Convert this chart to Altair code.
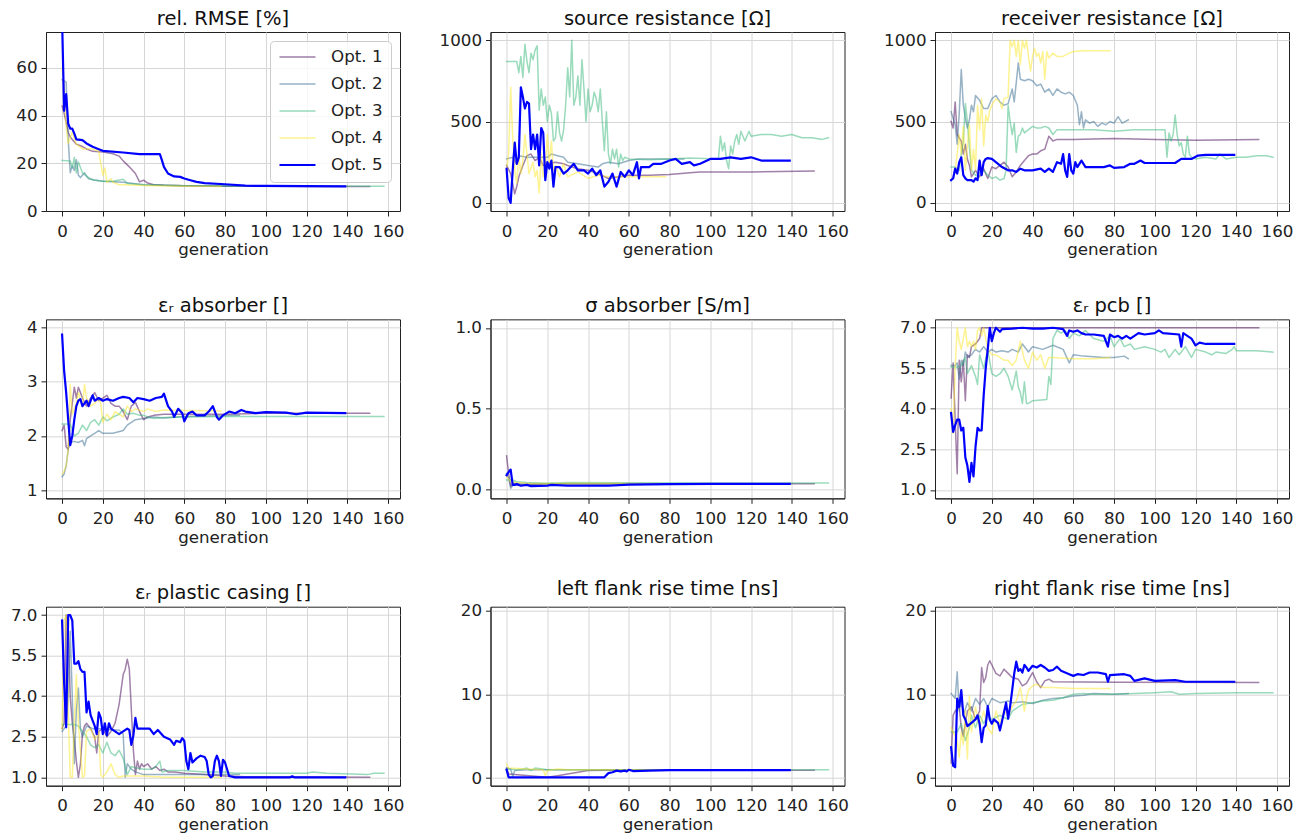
import altair as alt
import pandas as pd

SERIES = ["Opt. 1", "Opt. 2", "Opt. 3", "Opt. 4", "Opt. 5"]
COLORS = ["#440154", "#31688e", "#35b779", "#fde725", "#0000ff"]
OPACITY = [0.5, 0.5, 0.5, 0.5, 1.0]
WIDTHS = [1.5, 1.5, 1.5, 1.5, 2.2]
GEN_TICKS = [0, 20, 40, 60, 80, 100, 120, 140, 160]
GEN_DOMAIN = [-7.9, 165.9]

# ---- rel. RMSE [%]
rmse_opt1 = [(0,44),(1,41),(2,37),(3,33),(4,31),(5,30),(7,28),(10,27),(12,26),(15,25),(20,24.7),(25,24),(28,23),(30,21),(33,18.5),(36,15.7),(38,12.2),(40,12.9),(42,11.7),(45,11),(50,10.8),(60,10.6),(80,10.4),(120,10.3),(151,10.3)]
rmse_opt2 = [(0,55),(2,54),(3,30),(4,16),(5,19),(6,17),(7,21.5),(8,15),(9,14),(11,16),(13,13.5),(16,13),(20,12.5),(30,12),(40,11),(60,10.6),(87,10.4)]
rmse_opt3 = [(0,21.2),(4,21),(5,18),(6,22.5),(7,16),(8,20.5),(10,16),(12,14.5),(15,13),(20,12.5),(25,12.5),(30,13.3),(32,11.5),(40,11),(60,10.6),(100,10.5),(158,10.4)]
rmse_opt4 = [(0,60),(1,53),(2,35),(3,28.3),(5,33),(7,28),(10,26),(15,26),(18,25),(19,20),(20,15),(21,18),(22,12),(24,13.5),(25,12),(28,11),(30,11),(40,10.7),(50,10.5),(78,10.3)]
rmse_opt5 = [(0,80),(1,42),(2,49),(3,36.6),(4,34.5),(5,34.5),(6,32.4),(7,30),(10,29.7),(12,28.3),(15,26.9),(18,25.9),(20,25.2),(30,24.5),(38,23.8),(48,23.8),(49,21.3),(50,18.5),(52,15.7),(55,14.5),(58,14.3),(60,13.6),(63,12.9),(66,12.2),(70,11.7),(80,11.2),(90,10.6),(100,10.5),(139,10.3)]

# ---- source resistance [Ohm]
src_opt1 = [(0,230),(2,180),(4,55),(5,100),(6,160),(8,230),(10,290),(12,300),(14,260),(16,280),(18,230),(20,240),(24,250),(28,240),(30,230),(35,210),(40,200),(45,180),(50,150),(55,160),(60,170),(70,170),(80,175),(90,185),(95,190),(120,190),(151,195)]
src_opt2 = [(0,270),(3,280),(5,240),(6,290),(10,280),(15,280),(20,280),(22,300),(25,290),(28,280),(30,250),(35,240),(40,230),(45,220),(47,240),(50,250),(55,240),(60,260),(65,270),(80,270),(87,270)]
src_opt3 = [(0,868),(5,868),(6,800),(7,900),(8,770),(9,975),(10,870),(11,800),(12,920),(13,880),(14,940),(15,965),(16,570),(17,700),(18,600),(19,650),(20,500),(21,600),(22,550),(23,380),(24,400),(25,560),(26,430),(27,380),(28,450),(29,600),(30,830),(31,650),(32,1000),(33,600),(34,650),(35,780),(36,600),(37,880),(38,700),(39,500),(40,700),(41,560),(42,600),(43,680),(44,640),(45,560),(46,700),(47,500),(48,320),(49,560),(50,300),(51,240),(52,330),(53,270),(54,330),(55,220),(56,300),(57,260),(58,280),(60,270),(70,265),(80,270),(90,275),(104,270),(105,410),(106,320),(107,370),(108,260),(109,210),(110,350),(111,300),(112,380),(113,420),(114,360),(115,440),(117,380),(119,440),(120,410),(125,420),(130,420),(135,410),(140,420),(145,400),(150,400),(155,390),(158,400)]
src_opt4 = [(0,200),(1,300),(2,710),(3,400),(4,200),(5,120),(6,300),(7,180),(8,260),(9,420),(10,300),(11,180),(13,250),(14,160),(15,200),(16,60),(17,300),(18,160),(19,200),(20,420),(21,250),(22,380),(23,200),(24,230),(26,160),(28,240),(30,160),(35,190),(40,150),(45,170),(50,160),(60,160),(78,160)]
src_opt5 = [(0,210),(1,30),(2,0),(3,200),(4,370),(5,240),(6,280),(7,710),(8,650),(9,580),(10,620),(11,610),(12,330),(13,420),(14,330),(15,420),(16,230),(17,460),(18,430),(19,140),(20,250),(21,210),(22,260),(23,100),(24,220),(26,220),(28,180),(30,200),(33,240),(35,200),(38,200),(40,180),(42,210),(44,170),(46,200),(48,100),(50,130),(52,180),(54,100),(56,190),(58,160),(60,200),(62,170),(64,250),(65,150),(66,220),(70,220),(72,240),(76,240),(80,260),(83,270),(86,240),(90,250),(92,230),(95,240),(100,270),(105,270),(110,280),(115,270),(120,280),(125,260),(130,260),(139,260)]

# ---- receiver resistance [Ohm]
rcv_opt1 = [(0,500),(1,460),(2,620),(3,420),(4,400),(5,380),(6,300),(7,360),(8,270),(9,230),(10,160),(12,200),(14,160),(16,210),(18,150),(20,220),(22,210),(24,230),(26,250),(28,220),(30,160),(32,190),(34,230),(36,260),(38,290),(40,300),(42,300),(44,320),(46,330),(48,410),(50,380),(52,390),(60,390),(80,395),(100,390),(120,385),(151,390)]
rcv_opt2 = [(0,560),(1,520),(2,480),(3,360),(4,550),(5,820),(6,600),(7,520),(8,460),(9,510),(10,600),(11,560),(12,660),(14,630),(16,580),(18,580),(20,640),(22,660),(24,620),(26,600),(28,610),(30,700),(31,620),(32,740),(33,860),(34,760),(36,750),(38,760),(40,750),(42,720),(44,730),(46,680),(48,700),(50,660),(52,700),(54,680),(56,670),(58,680),(60,660),(62,600),(63,480),(64,560),(65,460),(66,510),(68,490),(70,500),(72,470),(74,490),(76,480),(78,500),(80,490),(82,530),(84,490),(87,510)]
rcv_opt3 = [(0,220),(2,220),(4,200),(5,300),(6,380),(7,610),(8,500),(9,340),(10,200),(12,170),(14,180),(16,200),(18,170),(20,150),(22,160),(24,140),(26,150),(27,200),(28,600),(29,500),(30,420),(31,490),(32,310),(33,410),(34,420),(35,460),(36,430),(38,450),(40,470),(42,460),(44,460),(46,470),(48,460),(50,420),(52,450),(60,450),(70,450),(80,440),(90,450),(105,450),(106,280),(107,430),(108,380),(109,420),(110,540),(111,420),(112,350),(113,370),(114,300),(115,280),(116,410),(117,300),(118,280),(120,270),(125,280),(130,270),(132,300),(135,270),(140,280),(145,280),(150,290),(155,290),(158,280)]
rcv_opt4 = [(2,200),(3,300),(4,420),(5,300),(6,470),(7,200),(8,350),(9,480),(10,200),(11,330),(12,200),(13,600),(14,450),(15,640),(16,350),(17,540),(18,500),(19,570),(20,600),(22,640),(24,620),(25,580),(26,640),(28,650),(29,1000),(30,960),(31,1000),(32,900),(33,1000),(34,850),(35,1000),(36,950),(37,1000),(38,900),(39,810),(40,900),(41,950),(42,900),(43,920),(44,860),(45,930),(46,760),(47,930),(48,890),(50,920),(52,900),(55,900),(58,920),(60,930),(65,935),(78,935)]
rcv_opt5 = [(0,140),(1,150),(2,210),(3,180),(4,250),(5,280),(6,170),(7,150),(8,140),(10,140),(11,130),(12,150),(13,140),(14,260),(15,170),(16,250),(17,270),(18,275),(20,270),(22,250),(25,220),(28,200),(30,200),(32,190),(34,210),(36,200),(40,200),(44,210),(46,190),(48,210),(50,190),(52,250),(54,240),(55,300),(56,200),(57,160),(58,300),(59,200),(60,180),(61,250),(62,220),(64,260),(66,220),(70,220),(75,220),(78,230),(80,215),(85,220),(88,240),(90,240),(93,260),(95,245),(110,245),(113,270),(118,270),(121,290),(125,295),(139,295)]

# ---- eps_r absorber []
eab_opt1 = [(0,2.1),(1,2.2),(2,1.8),(3,1.75),(4,2.3),(5,2.6),(6,2.9),(7,2.7),(8,2.9),(9,2.8),(10,2.7),(12,2.55),(14,2.7),(16,2.8),(18,2.65),(20,2.7),(22,2.75),(24,2.6),(26,2.55),(28,2.55),(30,2.45),(32,2.3),(34,2.55),(36,2.62),(38,2.45),(40,2.3),(42,2.35),(45,2.38),(50,2.4),(80,2.4),(100,2.42),(151,2.42)]
eab_opt2 = [(0,1.25),(1,1.3),(2,1.45),(3,1.75),(4,1.88),(6,1.9),(8,1.88),(10,1.92),(11,1.82),(12,1.95),(14,2.0),(16,2.05),(18,2.1),(20,2.05),(25,2.05),(30,2.1),(32,2.2),(34,2.25),(36,2.3),(40,2.32),(45,2.35),(50,2.33),(60,2.36),(70,2.37),(87,2.38)]
eab_opt3 = [(0,2.22),(4,2.22),(5,2.1),(6,2.0),(8,2.05),(10,2.2),(12,2.1),(14,2.25),(16,2.3),(18,2.2),(20,2.35),(22,2.28),(25,2.35),(28,2.4),(30,2.5),(32,2.4),(35,2.42),(38,2.38),(40,2.38),(45,2.32),(50,2.34),(60,2.35),(80,2.36),(158,2.36)]
eab_opt4 = [(0,1.3),(1,1.35),(2,1.45),(3,1.75),(4,2.95),(5,2.4),(6,2.5),(7,2.6),(8,2.8),(10,2.55),(11,2.95),(12,2.7),(14,2.55),(16,2.6),(18,2.7),(19,2.6),(20,2.25),(22,2.4),(24,2.3),(26,2.45),(28,2.4),(30,2.35),(32,2.55),(34,2.45),(36,2.5),(40,2.45),(42,2.5),(46,2.45),(50,2.48),(60,2.47),(78,2.46)]
eab_opt5 = [(0,3.87),(1,3.2),(2,2.8),(3,2.3),(4,1.83),(5,2.0),(6,2.3),(7,2.55),(8,2.65),(9,2.68),(10,2.55),(12,2.65),(13,2.55),(15,2.75),(16,2.65),(18,2.7),(20,2.65),(22,2.68),(25,2.65),(28,2.7),(30,2.72),(33,2.7),(35,2.62),(37,2.7),(40,2.68),(43,2.65),(46,2.7),(49,2.72),(50,2.78),(52,2.55),(54,2.45),(55,2.35),(57,2.5),(59,2.42),(60,2.27),(62,2.42),(64,2.45),(66,2.38),(70,2.38),(72,2.45),(74,2.55),(76,2.35),(77,2.3),(79,2.38),(82,2.45),(85,2.42),(88,2.48),(90,2.45),(95,2.42),(100,2.44),(110,2.43),(115,2.4),(120,2.43),(139,2.42)]

# ---- sigma absorber [S/m]
sig_opt1 = [(0,0.21),(1,0.1),(2,0.02),(3,0.04),(5,0.03),(20,0.035),(50,0.035),(100,0.037),(151,0.037)]
sig_opt2 = [(0,0.1),(1,0.07),(2,0.01),(4,0.04),(10,0.035),(30,0.037),(60,0.036),(87,0.037)]
sig_opt3 = [(0,0.06),(3,0.06),(5,0.05),(10,0.045),(20,0.04),(30,0.045),(60,0.043),(100,0.042),(158,0.042)]
sig_opt4 = [(0,0.08),(2,0.05),(5,0.045),(10,0.04),(20,0.038),(40,0.04),(78,0.038)]
sig_opt5 = [(0,0.09),(1,0.11),(2,0.125),(3,0.03),(4,0.03),(5,0.035),(7,0.025),(10,0.03),(12,0.022),(20,0.025),(22,0.03),(30,0.025),(50,0.025),(60,0.032),(80,0.035),(100,0.037),(139,0.037)]

# ---- eps_r pcb []
pcb_opt1 = [(0,4.4),(1,5.7),(2,3.6),(3,1.6),(4,5.8),(5,5.0),(6,5.8),(7,4.3),(8,6.0),(9,5.9),(10,6.3),(12,6.4),(14,6.6),(15,7.0),(20,7.0),(151,7.0)]
pcb_opt2 = [(0,5.6),(2,5.6),(3,5.7),(4,5.1),(5,5.8),(6,5.6),(7,6.1),(8,5.9),(10,6.0),(12,6.2),(14,6.1),(16,6.3),(18,6.1),(20,6.2),(22,6.1),(25,6.15),(28,6.1),(30,6.2),(33,6.1),(35,6.4),(38,6.1),(40,6.3),(45,6.2),(50,6.35),(55,6.2),(58,5.7),(60,6.0),(65,5.95),(75,5.9),(80,5.9),(85,5.95),(87,5.85)]
pcb_opt3 = [(0,5.55),(3,5.55),(5,5.6),(7,5.9),(8,5.3),(10,5.6),(12,5.2),(13,4.9),(14,6.0),(16,5.5),(18,6.2),(20,5.3),(22,5.2),(24,5.3),(26,5.5),(28,5.2),(30,4.7),(32,5.4),(33,4.8),(34,4.6),(35,4.2),(36,5.0),(37,4.2),(38,4.2),(40,4.3),(47,4.35),(48,5.2),(49,4.9),(50,6.6),(52,6.9),(54,6.8),(56,6.9),(58,6.6),(60,6.8),(63,6.7),(66,6.9),(70,6.6),(75,6.5),(78,6.7),(80,6.3),(83,6.6),(85,6.3),(88,6.4),(90,6.2),(95,6.3),(100,6.2),(103,6.1),(105,6.2),(107,5.9),(110,6.2),(112,6.0),(115,6.3),(118,5.9),(120,6.2),(125,6.1),(128,6.0),(130,6.1),(135,6.05),(138,6.2),(139,6.3),(140,6.15),(150,6.15),(158,6.1)]
pcb_opt4 = [(0,4.0),(1,3.1),(2,5.5),(3,7.0),(4,6.5),(5,6.2),(6,6.6),(7,7.0),(8,6.3),(9,6.5),(10,6.3),(11,6.5),(12,6.2),(13,6.9),(14,7.0),(15,6.7),(16,7.0),(18,6.2),(20,6.0),(22,6.0),(24,5.9),(26,5.8),(28,5.8),(30,5.6),(32,5.8),(34,6.5),(36,5.8),(38,5.5),(40,6.1),(42,5.8),(44,6.0),(46,5.5),(48,5.9),(50,5.9),(60,5.85),(70,5.85),(78,5.9)]
pcb_opt5 = [(0,3.85),(1,3.15),(2,3.4),(3,3.6),(4,3.6),(5,3.2),(6,3.3),(7,2.2),(8,1.9),(9,1.3),(10,2.0),(11,1.5),(12,2.6),(13,3.3),(14,3.2),(15,3.2),(16,4.5),(17,5.5),(18,6.2),(19,7.0),(20,6.5),(21,6.8),(22,7.0),(24,6.85),(25,6.95),(30,6.97),(35,7.0),(40,6.97),(45,6.97),(50,7.0),(55,6.95),(57,6.7),(58,6.9),(60,6.85),(62,6.9),(64,6.8),(66,6.75),(70,6.75),(75,6.7),(77,6.3),(78,6.75),(80,6.65),(82,6.7),(84,6.6),(86,6.7),(88,6.6),(90,6.7),(92,6.8),(95,6.75),(100,6.8),(102,6.9),(104,6.8),(112,6.75),(113,6.3),(114,6.8),(116,6.7),(118,6.6),(120,6.35),(122,6.45),(125,6.4),(139,6.4)]

# ---- eps_r plastic casing []
pla_opt1 = [(0,2.8),(1,3.0),(2,7.0),(3,6.5),(4,4.0),(5,3.0),(6,2.4),(7,1.6),(8,1.0),(9,1.5),(10,2.6),(11,2.9),(12,3.0),(14,2.8),(16,2.5),(17,1.9),(18,2.7),(20,2.8),(22,2.5),(24,2.7),(26,3.0),(28,3.7),(30,4.8),(31,5.0),(32,5.37),(33,5.0),(34,3.5),(35,2.0),(36,1.1),(37,1.6),(38,1.3),(39,1.5),(40,1.4),(42,1.5),(44,1.3),(46,1.4),(48,1.25),(50,1.3),(52,1.2),(55,1.2),(60,1.15),(70,1.1),(80,1.05),(90,1.02),(151,1.0)]
pla_opt2 = [(0,2.7),(2,2.9),(3,4.0),(4,6.4),(5,4.0),(6,1.5),(7,3.5),(8,4.3),(9,2.8),(10,2.5),(12,2.9),(15,2.8),(20,2.8),(25,2.75),(28,2.75),(30,2.6),(31,1.0),(32,1.5),(34,1.3),(36,1.2),(40,1.1),(60,1.1),(87,1.1)]
pla_opt3 = [(0,2.95),(6,2.95),(8,2.9),(10,2.7),(12,2.5),(14,2.2),(16,2.1),(18,2.2),(20,1.9),(22,2.3),(24,1.9),(26,1.8),(28,2.0),(30,1.7),(32,1.1),(34,1.4),(36,1.35),(40,1.3),(44,1.3),(46,1.4),(48,1.6),(49,1.2),(52,1.25),(60,1.25),(70,1.2),(80,1.2),(85,1.15),(120,1.15),(123,1.2),(130,1.15),(150,1.1),(153,1.15),(158,1.15)]
pla_opt4 = [(0,2.8),(1,6.8),(2,7.0),(3,3.5),(4,1.0),(5,1.0),(6,3.0),(7,4.8),(8,3.0),(9,2.0),(10,1.0),(11,1.05),(12,2.7),(14,2.8),(16,2.4),(18,2.7),(19,1.1),(20,1.0),(22,1.2),(24,1.5),(26,1.1),(28,1.0),(30,1.05),(40,1.05),(50,1.0),(78,1.0)]
pla_opt5 = [(0,6.8),(1,4.5),(2,2.85),(3,7.0),(4,7.0),(5,6.8),(6,5.2),(7,5.2),(8,5.3),(9,5.0),(10,4.9),(11,4.9),(12,3.4),(13,3.8),(14,3.3),(15,3.1),(16,2.9),(17,2.6),(18,3.4),(19,3.2),(20,2.6),(21,3.0),(22,2.55),(23,3.0),(24,2.8),(26,2.7),(28,2.6),(30,2.7),(32,2.8),(33,2.75),(34,2.2),(35,2.55),(36,3.2),(37,2.8),(43,2.8),(45,2.6),(47,2.75),(50,2.5),(53,2.4),(55,2.2),(56,2.35),(58,2.3),(59,2.45),(60,2.35),(61,1.6),(62,1.3),(63,1.9),(64,1.55),(66,1.7),(68,1.8),(70,1.75),(71,1.6),(72,1.1),(73,1.0),(74,1.05),(75,1.6),(76,1.8),(77,1.6),(78,1.05),(79,1.65),(80,1.55),(81,1.3),(82,1.05),(85,1.0),(112,1.0),(113,1.04),(114,1.0),(139,1.0)]

# ---- left flank rise time [ns]
lft_opt1 = [(0,1.2),(1,0.5),(20,0.1),(25,0.3),(30,0.5),(40,0.9),(50,0.95),(151,0.95)]
lft_opt2 = [(0,1.2),(2,1.1),(3,0.2),(4,0.9),(10,1.0),(40,1.0),(87,1.0)]
lft_opt3 = [(0,1.1),(5,1.0),(8,1.1),(10,1.2),(12,0.9),(14,1.2),(20,1.0),(30,1.0),(158,1.0)]
lft_opt4 = [(0,1.7),(1,1.2),(10,1.1),(18,1.0),(19,0.3),(20,0.9),(25,1.1),(30,1.0),(78,1.0)]
lft_opt5 = [(0,1.0),(1,0.1),(48,0.1),(50,0.6),(52,0.7),(54,0.9),(56,0.8),(58,0.9),(59,0.8),(60,1.0),(62,0.85),(70,0.9),(80,0.95),(139,0.95)]

# ---- right flank rise time [ns]
rgt_opt1 = [(0,1.8),(1,7.5),(2,8.0),(4,8.5),(5,6.0),(6,5.0),(8,8.0),(10,8.5),(12,7.0),(14,8.0),(15,13.2),(16,11.4),(17,12.0),(18,13.5),(19,14.0),(20,13.5),(22,12.5),(24,12.2),(26,13.0),(28,12.5),(30,12.0),(33,11.8),(35,11.0),(37,11.3),(40,12.6),(42,11.5),(44,10.8),(46,11.6),(48,11.8),(50,11.5),(80,11.45),(151,11.4)]
rgt_opt2 = [(0,10.1),(2,9.5),(3,12.7),(4,8.0),(5,9.5),(6,7.5),(8,9.0),(10,8.0),(12,9.5),(14,8.8),(16,9.5),(18,8.5),(20,9.5),(24,9.0),(28,9.2),(30,9.0),(35,9.1),(40,8.9),(45,9.3),(50,9.5),(55,9.6),(60,9.8),(65,9.9),(70,10.1),(80,10.0),(87,10.1)]
rgt_opt3 = [(0,5.5),(3,5.5),(5,6.5),(7,4.5),(9,6.0),(10,7.5),(12,6.0),(14,7.5),(16,6.5),(18,7.5),(20,7.0),(24,7.5),(28,7.0),(30,8.0),(35,8.8),(40,9.0),(45,9.2),(50,9.3),(55,9.6),(60,10.0),(65,10.1),(70,10.0),(80,10.0),(90,10.1),(100,10.2),(108,10.3),(112,10.0),(120,10.1),(140,10.2),(158,10.2)]
rgt_opt4 = [(0,6.0),(2,5.0),(3,4.5),(4,2.5),(5,5.5),(6,4.0),(7,8.0),(8,2.3),(9,9.8),(10,5.5),(12,8.5),(14,6.0),(16,8.0),(18,6.0),(20,5.3),(22,8.0),(24,6.5),(26,8.0),(28,7.5),(30,8.5),(32,9.2),(34,10.8),(36,8.0),(37,9.5),(38,10.5),(40,11.0),(42,11.2),(45,10.8),(50,10.8),(60,10.7),(78,10.7)]
rgt_opt5 = [(0,3.7),(1,1.5),(2,1.3),(3,9.5),(4,8.5),(5,10.5),(6,7.5),(7,7.0),(8,6.2),(10,6.6),(12,7.0),(13,7.5),(14,6.5),(15,4.3),(16,6.0),(17,6.3),(18,8.6),(19,7.0),(20,6.5),(21,7.0),(23,6.6),(24,5.7),(25,6.8),(27,9.0),(28,7.1),(29,8.6),(30,10.5),(31,12.5),(32,13.9),(33,12.8),(34,13.0),(35,12.6),(36,13.5),(37,13.2),(38,12.8),(40,13.4),(42,13.2),(44,13.5),(46,13.2),(48,12.8),(50,12.9),(52,13.3),(54,12.8),(56,12.6),(58,12.4),(60,12.2),(62,12.4),(65,12.3),(68,12.6),(72,12.6),(76,12.4),(77,11.5),(78,12.3),(85,12.4),(88,12.2),(90,11.6),(95,11.9),(100,11.6),(110,11.7),(115,11.5),(139,11.5)]

PANELS = [
    ("rel. RMSE [%]", [rmse_opt1, rmse_opt2, rmse_opt3, rmse_opt4, rmse_opt5], [0, 75], [0, 20, 40, 60], "d", True),
    ("source resistance [Ω]", [src_opt1, src_opt2, src_opt3, src_opt4, src_opt5], [-50, 1050], [0, 500, 1000], "d", False),
    ("receiver resistance [Ω]", [rcv_opt1, rcv_opt2, rcv_opt3, rcv_opt4, rcv_opt5], [-50, 1050], [0, 500, 1000], "d", False),
    ("εᵣ absorber []", [eab_opt1, eab_opt2, eab_opt3, eab_opt4, eab_opt5], [0.85, 4.15], [1, 2, 3, 4], "d", False),
    ("σ absorber [S/m]", [sig_opt1, sig_opt2, sig_opt3, sig_opt4, sig_opt5], [-0.053, 1.053], [0, 0.5, 1.0], ".1f", False),
    ("εᵣ pcb []", [pcb_opt1, pcb_opt2, pcb_opt3, pcb_opt4, pcb_opt5], [0.69, 7.31], [1.0, 2.5, 4.0, 5.5, 7.0], ".1f", False),
    ("εᵣ plastic casing []", [pla_opt1, pla_opt2, pla_opt3, pla_opt4, pla_opt5], [0.69, 7.31], [1.0, 2.5, 4.0, 5.5, 7.0], ".1f", False),
    ("left flank rise time [ns]", [lft_opt1, lft_opt2, lft_opt3, lft_opt4, lft_opt5], [-0.9, 20.45], [0, 10, 20], "d", False),
    ("right flank rise time [ns]", [rgt_opt1, rgt_opt2, rgt_opt3, rgt_opt4, rgt_opt5], [-0.9, 20.45], [0, 10, 20], "d", False),
]


def make_panel(title, lists, ydom, yticks, fmt, show_legend):
    rows = []
    for name, pts in zip(SERIES, lists):
        for g, v in pts:
            rows.append({"gen": g, "value": v, "series": name})
    df = pd.DataFrame(rows)
    leg = alt.Legend(title=None, orient="top-right") if show_legend else None
    return (
        alt.Chart(df, title=alt.Title(title))
        .mark_line(clip=True, strokeJoin="round", strokeCap="square")
        .encode(
            x=alt.X("gen:Q", scale=alt.Scale(domain=GEN_DOMAIN, nice=False, zero=False),
                    axis=alt.Axis(values=GEN_TICKS, title="generation", format="d")),
            y=alt.Y("value:Q", scale=alt.Scale(domain=ydom, nice=False, zero=False),
                    axis=alt.Axis(values=yticks, title=None, format=fmt)),
            color=alt.Color("series:N", scale=alt.Scale(domain=SERIES, range=COLORS), legend=leg),
            opacity=alt.Opacity("series:N", scale=alt.Scale(type="ordinal", domain=SERIES, range=OPACITY), legend=leg),
            strokeWidth=alt.StrokeWidth("series:N", scale=alt.Scale(type="ordinal", domain=SERIES, range=WIDTHS), legend=leg),
            order=alt.Order("gen:Q"),
        )
        .properties(width=354, height=179)
    )


charts = [make_panel(*p) for p in PANELS]

chart = (
    alt.concat(*charts, columns=3, spacing={"row": 108.35, "column": 90.5}, bounds="flush")
    .resolve_scale(color="independent", opacity="independent", strokeWidth="independent")
    .resolve_legend(color="independent", opacity="independent", strokeWidth="independent")
    .properties(padding={"left": 5, "top": 8, "right": 5, "bottom": 2})
    .configure(font="DejaVu Sans")
    .configure_view(stroke="#222222", strokeWidth=1)
    .configure_axis(
        labelFontSize=16.7, labelColor="#222222", labelFont="DejaVu Sans",
        tickColor="#222222", domainColor="#222222", tickSize=5, tickWidth=1,
        gridColor="#d6d6d6", gridWidth=1, labelPadding=4,
        titleFontSize=16.7, titleFontWeight="normal", titleColor="#222222", titlePadding=2,
    )
    .configure_axisX(labelPadding=7)
    .configure_axisY(minExtent=40)
    .configure_title(fontSize=19.5, fontWeight="normal", anchor="middle", offset=3, color="#111111", font="DejaVu Sans")
    .configure_legend(
        symbolType="stroke", symbolSize=1296, labelFontSize=16.7, labelFont="DejaVu Sans",
        labelColor="#222222", padding=8, rowPadding=10, labelOffset=14, clipHeight=16,
        offset=9, fillColor="rgba(255,255,255,0.8)", strokeColor="#cccccc", cornerRadius=4,
    )
)

chart.save("out.html", embed_options={"renderer": "svg", "actions": False})
